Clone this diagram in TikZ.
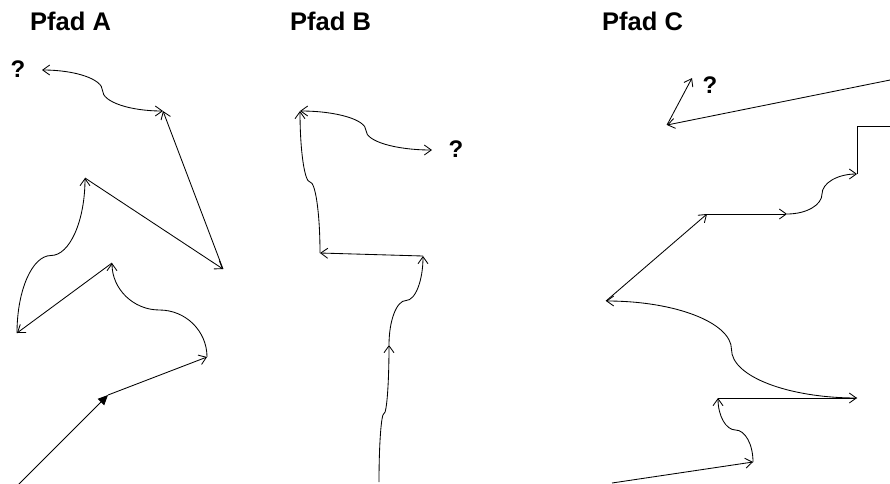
\documentclass[tikz,border=0pt]{standalone}
\usepackage{fontspec}
\setmainfont{Liberation Sans}
\usetikzlibrary{arrows.meta,calc}
\begin{document}
\begin{tikzpicture}[x=1pt,y=1pt,
  ln/.style={line width=0.85pt, black},
  arr/.style={ln,-{Straight Barb[length=7pt,width=10pt]}},
  darr/.style={ln,{Straight Barb[length=7pt,width=10pt]}-{Straight Barb[length=7pt,width=10pt]}},
  farr/.style={ln,-{Triangle[length=10pt,width=9pt]}},
  ttl/.style={font=\bfseries\fontsize{25.5}{30}\selectfont, anchor=base west, inner sep=0pt},
  qm/.style={font=\bfseries\fontsize{24}{28}\selectfont, anchor=base, inner sep=0pt},
  vh/.style={to path={.. controls ($(\tikztostart)!0.5523!(\tikztostart|-\tikztotarget)$) and ($(\tikztotarget)!0.5523!(\tikztostart|-\tikztotarget)$) .. (\tikztotarget) \tikztonodes}},
  hv/.style={to path={.. controls ($(\tikztostart)!0.5523!(\tikztostart-|\tikztotarget)$) and ($(\tikztotarget)!0.5523!(\tikztostart-|\tikztotarget)$) .. (\tikztotarget) \tikztonodes}}]
\useasboundingbox (0,0) rectangle (890,-483);
\clip (0,0) rectangle (890,-483);

% titles
\node[ttl] (tA) at (30,-30) {Pfad A};
\node[ttl] (tB) at (290,-30) {Pfad B};
\node[ttl] (tC) at (602,-30) {Pfad C};

% ---------- Pfad A ----------
\coordinate (a0) at (17,-486);
\coordinate (a1) at (108,-395);
\coordinate (a2) at (207,-357);
\coordinate (a3) at (112,-263);
\coordinate (a4) at (17,-333);
\coordinate (a5) at (85,-178);
\coordinate (a6) at (223,-269);
\coordinate (a7) at (163,-111);
\coordinate (a8) at (42,-70);
\coordinate (a2m) at ($(a2)!0.5!(a3)$);
\coordinate (a4m) at ($(a4)!0.5!(a5)$);
\coordinate (a7m) at ($(a7)!0.5!(a8)$);
\node[qm] (qA) at (18,-77) {?};

\draw[farr] (a0) -- (a1);
\draw[arr] (a1) -- (a2);
\draw[arr] (a2) to[vh] (a2m) to[hv] (a3);
\draw[arr] (a3) -- (a4);
\draw[arr] (a4) to[vh] (a4m) to[hv] (a5);
\draw[arr] (a5) -- (a6);
\draw[arr] (a6) -- (a7);
\draw[darr] (a7) to[hv] (a7m) to[vh] (a8);

% ---------- Pfad B ----------
\coordinate (b0) at (379,-482);
\coordinate (b1) at (389,-345);
\coordinate (b2) at (423,-256);
\coordinate (b3) at (320,-253);
\coordinate (b4) at (300,-111);
\coordinate (b5) at (432,-150);
\coordinate (b0m) at ($(b0)!0.5!(b1)$);
\coordinate (b1m) at ($(b1)!0.5!(b2)$);
\coordinate (b3m) at ($(b3)!0.5!(b4)$);
\coordinate (b4m) at ($(b4)!0.5!(b5)$);
\node[qm] (qB) at (456,-157) {?};

\draw[arr] (b0) to[vh] (b0m) to[hv] (b1);
\draw[arr] (b1) to[vh] (b1m) to[hv] (b2);
\draw[arr] (b2) -- (b3);
\draw[arr] (b3) to[vh] (b3m) to[hv] (b4);
\draw[darr] (b4) to[hv] (b4m) to[vh] (b5);

% ---------- Pfad C ----------
\coordinate (c0) at (612,-483);
\coordinate (c1) at (753,-462);
\coordinate (c2) at (718,-398);
\coordinate (c3) at (857,-398);
\coordinate (c4) at (606,-301);
\coordinate (c5) at (707,-214);
\coordinate (c6) at (787,-214);
\coordinate (c7) at (857,-174);
\coordinate (c8) at (900,-126);
\coordinate (c9) at (900,-78);
\coordinate (c10) at (667,-125);
\coordinate (c11) at (692,-78);
\coordinate (c1m) at ($(c1)!0.5!(c2)$);
\coordinate (c3m) at ($(c3)!0.5!(c4)$);
\coordinate (c6m) at ($(c6)!0.5!(c7)$);
\node[qm] (qC) at (710,-93) {?};

\draw[arr] (c0) -- (c1);
\draw[arr] (c1) to[vh] (c1m) to[hv] (c2);
\draw[arr] (c2) -- (c3);
\draw[arr] (c3) to[hv] (c3m) to[vh] (c4);
\draw[arr] (c4) -- (c5);
\draw[arr] (c5) -- (c6);
\draw[arr] (c6) to[hv] (c6m) to[vh] (c7);
\draw[ln] (c7) |- (c8);
\draw[arr] (c9) -- (c10);
\draw[arr] (c10) -- (c11);
\end{tikzpicture}
\end{document}
